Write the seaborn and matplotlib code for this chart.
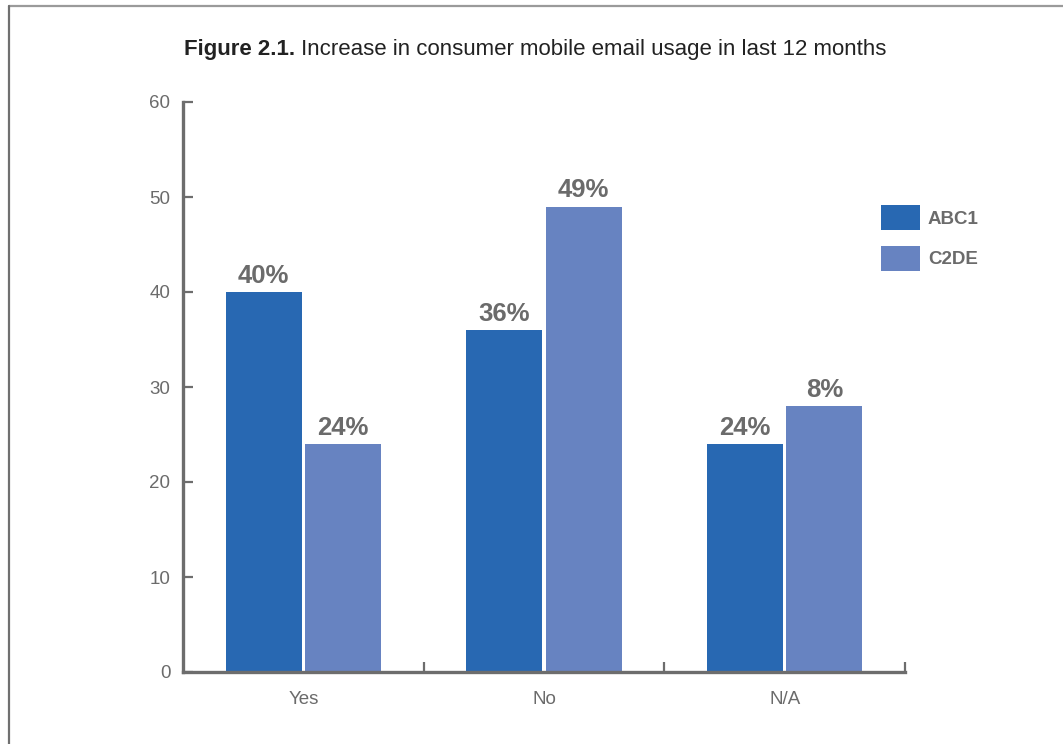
import matplotlib
matplotlib.use("Agg")
import matplotlib.pyplot as plt
from matplotlib import font_manager
from matplotlib.lines import Line2D
import numpy as np
import pandas as pd
import seaborn as sns

# ---- data ----
categories = ["Yes", "No", "N/A"]
groups = ["ABC1", "C2DE"]
abc1_values = [40, 36, 24]
c2de_values = [24, 49, 28]
abc1_labels = ["40%", "36%", "24%"]
c2de_labels = ["24%", "49%", "8%"]
y_ticks = [0, 10, 20, 30, 40, 50, 60]

title_bold = "Figure 2.1."
title_rest = "Increase in consumer mobile email usage in last 12 months"

# ---- style ----
sns.set_theme(style="white")
available = {f.name for f in font_manager.fontManager.ttflist}
family = "Liberation Sans Narrow" if "Liberation Sans Narrow" in available else "Liberation Sans"
plt.rcParams["font.family"] = [family, "DejaVu Sans"]

GREY = "#6b6b6b"
AXIS_GREY = "#6d6d6d"
palette = {"ABC1": "#2868b2", "C2DE": "#6783c1"}

df = pd.DataFrame({
    "category": categories * 2,
    "group": ["ABC1"] * 3 + ["C2DE"] * 3,
    "value": abc1_values + c2de_values,
})

fig = plt.figure(figsize=(10.63, 7.44), dpi=100)
ax = fig.add_axes([183 / 1063, 1 - 672 / 744, (905 - 183) / 1063, (672 - 102) / 744])

sns.barplot(data=df, x="category", y="value", hue="group", order=categories,
            hue_order=groups, palette=palette, width=0.66, gap=0.04,
            saturation=1, linewidth=0, ax=ax, legend=True)

ax.set_xlim(-0.5, 2.5)
ax.set_ylim(0, 60)
ax.set_xlabel("")
ax.set_ylabel("")

# spines
for side in ["top", "right"]:
    ax.spines[side].set_visible(False)
for side in ["left", "bottom"]:
    ax.spines[side].set_color(AXIS_GREY)
    ax.spines[side].set_linewidth(2.4)
    ax.spines[side].set_zorder(5)

# y axis ticks
ax.set_yticks(y_ticks)
ax.tick_params(axis="y", direction="in", length=7.5, width=1.6, color=AXIS_GREY,
               labelsize=13.5, labelcolor=GREY, pad=9, left=True)

# x axis: labels at the centres, tick marks at the category boundaries
ax.set_xticks(range(len(categories)))
ax.set_xticklabels(categories)
ax.tick_params(axis="x", which="major", length=0, labelsize=13.5, labelcolor=GREY, pad=14)
ax.set_xticks([0.5, 1.5, 2.5], minor=True)
ax.tick_params(axis="x", which="minor", direction="in", length=7.5, width=1.6,
               color=AXIS_GREY, bottom=True)

# value labels
for container, labels in zip(ax.containers, [abc1_labels, c2de_labels]):
    ax.bar_label(container, labels=labels, padding=3, fontsize=18.5,
                 fontweight="bold", color=GREY)

# legend
handles, leg_labels = ax.get_legend_handles_labels()
ax.legend(handles, leg_labels, loc="upper left",
          bbox_to_anchor=(881 / 1063, 1 - 205 / 744), bbox_transform=fig.transFigure,
          frameon=False, prop={"weight": "bold", "size": 13.5},
          handlelength=2.1, handleheight=1.7, handletextpad=0.4,
          labelspacing=0.82, borderpad=0, borderaxespad=0)
for t in ax.get_legend().get_texts():
    t.set_color(GREY)

# two-part title, bold lead-in followed by regular text
fig.canvas.draw()
renderer = fig.canvas.get_renderer()
t1 = fig.text(0, 1 - 49 / 744, title_bold, fontsize=16, fontweight="bold",
              color="#222222", va="center", ha="left")
t2 = fig.text(0, 1 - 49 / 744, " " + title_rest, fontsize=16, color="#222222",
              va="center", ha="left")
w1 = t1.get_window_extent(renderer).width
w2 = t2.get_window_extent(renderer).width
x0 = 535 - (w1 + w2) / 2
t1.set_x(x0 / 1063)
t2.set_x((x0 + w1) / 1063)

# page frame lines
fig.add_artist(Line2D([9 / 1063, 1], [1 - 5.5 / 744] * 2, transform=fig.transFigure,
                      color="#9a9a9a", lw=1.6))
fig.add_artist(Line2D([9 / 1063] * 2, [1 - 5.5 / 744, 0], transform=fig.transFigure,
                      color="#707070", lw=1.6))

fig.savefig("out.png", dpi=100)
